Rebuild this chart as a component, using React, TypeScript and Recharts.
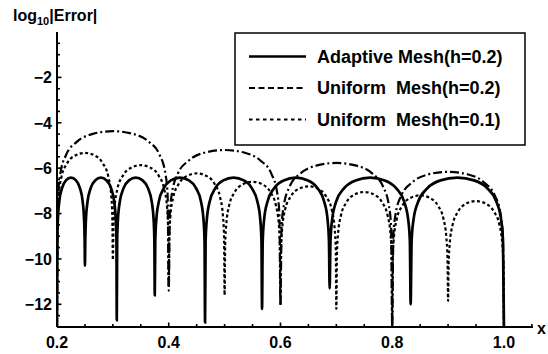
import { LineChart, Line, XAxis, YAxis, Legend } from "recharts";

const font = "'Liberation Sans', Arial, sans-serif";

// tick values
const xMajorTicks = [0.2, 0.4, 0.6, 0.8, 1.0];
const xTicks = [0.2, 0.25, 0.3, 0.35, 0.4, 0.45, 0.5, 0.55, 0.6, 0.65, 0.7, 0.75, 0.8, 0.85, 0.9, 0.95, 1.0, 1.05];
const yMajorTicks = [-12, -10, -8, -6, -4, -2];
const yTicks = [
  -13, -12.5, -12, -11.5, -11, -10.5, -10, -9.5, -9, -8.5, -8, -7.5, -7,
  -6.5, -6, -5.5, -5, -4.5, -4, -3.5, -3, -2.5, -2, -1.5, -1, -0.5,
];

// [x, log10|error|]
const adaptiveMesh: [number, number][] = [
  [0.2, -13], [0.2005, -9.22], [0.2015, -8.29], [0.204, -7.48], [0.209, -6.88], [0.216, -6.54], [0.225, -6.42], [0.234, -6.54], [0.241, -6.88], [0.246, -7.48], [0.2485, -8.29], [0.2495, -9.22],
  [0.25, -10.3], [0.2506, -9.22], [0.2517, -8.29], [0.2546, -7.48], [0.2603, -6.88], [0.2682, -6.54], [0.2785, -6.42], [0.2888, -6.54], [0.2967, -6.88], [0.3024, -7.48], [0.3053, -8.29], [0.3064, -9.22],
  [0.307, -12.7], [0.3077, -9.22], [0.309, -8.29], [0.3124, -7.48], [0.3192, -6.88], [0.3288, -6.54], [0.341, -6.42], [0.3532, -6.54], [0.3628, -6.88], [0.3696, -7.48], [0.373, -8.29], [0.3743, -9.22],
  [0.375, -11.6], [0.3759, -9.22], [0.3777, -8.29], [0.3822, -7.48], [0.3912, -6.88], [0.4038, -6.54], [0.42, -6.42], [0.4362, -6.54], [0.4488, -6.88], [0.4578, -7.48], [0.4623, -8.29], [0.4641, -9.22],
  [0.465, -12.8], [0.466, -9.22], [0.4681, -8.29], [0.4732, -7.48], [0.4834, -6.88], [0.4976, -6.54], [0.516, -6.42], [0.5344, -6.54], [0.5486, -6.88], [0.5588, -7.48], [0.5639, -8.29], [0.566, -9.22],
  [0.567, -12.2], [0.5682, -9.22], [0.5706, -8.29], [0.5767, -7.48], [0.5888, -6.88], [0.6057, -6.54], [0.6275, -6.42], [0.6493, -6.54], [0.6662, -6.88], [0.6783, -7.48], [0.6844, -8.29], [0.6868, -9.22],
  [0.688, -11.3], [0.6895, -9.22], [0.6924, -8.29], [0.6996, -7.48], [0.7141, -6.88], [0.7344, -6.54], [0.7605, -6.42], [0.7866, -6.54], [0.8069, -6.88], [0.8214, -7.48], [0.8287, -8.29], [0.8316, -9.22],
  [0.833, -12.0], [0.8347, -9.22], [0.838, -8.29], [0.8464, -7.48], [0.8631, -6.88], [0.8864, -6.54], [0.9165, -6.42], [0.9466, -6.54], [0.9699, -6.88], [0.9866, -7.48], [0.995, -8.29], [0.9983, -9.22],
  [1.0, -13],
];

const uniformMesh02: [number, number][] = [
  [0.2, -13], [0.202, -7.17], [0.206, -6.24], [0.216, -5.43], [0.236, -4.83], [0.264, -4.49], [0.3, -4.37], [0.336, -4.49], [0.364, -4.83], [0.384, -5.43], [0.394, -6.24], [0.398, -7.17],
  [0.4, -11.4], [0.402, -8.0], [0.406, -7.07], [0.416, -6.26], [0.436, -5.66], [0.464, -5.32], [0.5, -5.2], [0.536, -5.32], [0.564, -5.66], [0.584, -6.26], [0.594, -7.07], [0.598, -8.0],
  [0.6, -12.0], [0.602, -8.57], [0.606, -7.64], [0.616, -6.83], [0.636, -6.23], [0.664, -5.89], [0.7, -5.77], [0.736, -5.89], [0.764, -6.23], [0.784, -6.83], [0.794, -7.64], [0.798, -8.57],
  [0.8, -13], [0.802, -8.96], [0.806, -8.03], [0.816, -7.22], [0.836, -6.62], [0.864, -6.28], [0.9, -6.16], [0.936, -6.28], [0.964, -6.62], [0.984, -7.22], [0.994, -8.03], [0.998, -8.96],
  [1.0, -13],
];

const uniformMesh01: [number, number][] = [
  [0.2, -13], [0.201, -8.13], [0.203, -7.2], [0.208, -6.39], [0.218, -5.79], [0.232, -5.45], [0.25, -5.33], [0.268, -5.45], [0.282, -5.79], [0.292, -6.39], [0.297, -7.2], [0.299, -8.13],
  [0.3, -10.05], [0.301, -8.67], [0.303, -7.74], [0.308, -6.93], [0.318, -6.33], [0.332, -5.99], [0.35, -5.87], [0.368, -5.99], [0.382, -6.33], [0.392, -6.93], [0.397, -7.74], [0.399, -8.67],
  [0.4, -11.2], [0.401, -9.03], [0.403, -8.1], [0.408, -7.29], [0.418, -6.69], [0.432, -6.35], [0.45, -6.23], [0.468, -6.35], [0.482, -6.69], [0.492, -7.29], [0.497, -8.1], [0.499, -9.03],
  [0.5, -11.6], [0.501, -9.4], [0.503, -8.47], [0.508, -7.66], [0.518, -7.06], [0.532, -6.72], [0.55, -6.6], [0.568, -6.72], [0.582, -7.06], [0.592, -7.66], [0.597, -8.47], [0.599, -9.4],
  [0.6, -12.05], [0.601, -9.6], [0.603, -8.67], [0.608, -7.86], [0.618, -7.26], [0.632, -6.92], [0.65, -6.8], [0.668, -6.92], [0.682, -7.26], [0.692, -7.86], [0.697, -8.67], [0.699, -9.6],
  [0.7, -12.2], [0.701, -9.85], [0.703, -8.92], [0.708, -8.11], [0.718, -7.51], [0.732, -7.17], [0.75, -7.05], [0.768, -7.17], [0.782, -7.51], [0.792, -8.11], [0.797, -8.92], [0.799, -9.85],
  [0.8, -13], [0.801, -10.0], [0.803, -9.07], [0.808, -8.26], [0.818, -7.66], [0.832, -7.32], [0.85, -7.2], [0.868, -7.32], [0.882, -7.66], [0.892, -8.26], [0.897, -9.07], [0.899, -10.0],
  [0.9, -11.85], [0.901, -10.25], [0.903, -9.32], [0.908, -8.51], [0.918, -7.91], [0.932, -7.57], [0.95, -7.45], [0.968, -7.57], [0.982, -7.91], [0.992, -8.51], [0.997, -9.32], [0.999, -10.25],
  [1.0, -13],
];

const series = [
  { name: "Adaptive Mesh(h=0.2)", points: adaptiveMesh, width: 2.7, dash: undefined, legendDash: undefined },
  { name: "Uniform  Mesh(h=0.2)", points: uniformMesh02, width: 2.2, dash: "9 3 2 3", legendDash: "6 3.5" },
  { name: "Uniform  Mesh(h=0.1)", points: uniformMesh01, width: 2.2, dash: "3 2.5", legendDash: "3.5 3.5" },
];

const YTick = ({ x, y, payload }: any) => {
  const v = payload.value;
  const major = yMajorTicks.includes(v);
  return (
    <g>
      <line x1={x} x2={x + (major ? 4.5 : 3)} y1={y} y2={y} stroke="#000" strokeWidth={1.6} />
      {major && (
        <text x={x - 5} y={y} dy="0.36em" textAnchor="end" fontSize={16} fontWeight="bold" fontFamily={font} fill="#000">
          {"\u2212" + Math.abs(v)}
        </text>
      )}
    </g>
  );
};

const XTick = ({ x, y, payload }: any) => {
  const v = payload.value;
  const major = xMajorTicks.includes(v);
  return (
    <g>
      <line x1={x} x2={x} y1={y} y2={y - (major ? 4.5 : 3)} stroke="#000" strokeWidth={1.6} />
      {major && (
        <text x={x} y={y + 21} textAnchor="middle" fontSize={16} fontWeight="bold" fontFamily={font} fill="#000">
          {v.toFixed(1)}
        </text>
      )}
    </g>
  );
};

const AxisTitle = () => (
  <text x={13} y={21} fontSize={16} fontWeight="bold" fontFamily={font} fill="#000">
    log
    <tspan fontSize={11} dy={4}>10</tspan>
    <tspan dy={-4}>|Error|</tspan>
  </text>
);

const XName = () => (
  <text x={537} y={334} fontSize={16} fontWeight="bold" fontFamily={font} fill="#000">
    x
  </text>
);

const MeshLegend = () => (
  <svg width={292} height={114} style={{ display: "block" }}>
    <rect x={1} y={1} width={290} height={112} fill="#fff" stroke="#000" strokeWidth={1.5} />
    {series.map((s, i) => {
      const cy = 24.5 + i * 31.5;
      return (
        <g key={s.name}>
          <line x1={15} x2={72} y1={cy} y2={cy} stroke="#000" strokeWidth={s.width} strokeDasharray={s.legendDash} />
          <text x={83} y={cy} dy="0.36em" fontSize={18} fontWeight="bold" fontFamily={font} fill="#000" style={{ whiteSpace: "pre" }}>
            {s.name}
          </text>
        </g>
      );
    })}
  </svg>
);

export default function App() {
  return (
    <div style={{ position: "absolute", left: 0, top: 0, width: 548, height: 354, background: "#fff" }}>
      <LineChart width={548} height={354} margin={{ top: 32, right: 15, bottom: 0, left: 0 }}>
        <XAxis
          type="number"
          dataKey="x"
          domain={[0.2, 1.052]}
          allowDataOverflow
          ticks={xTicks}
          interval={0}
          height={27}
          tickSize={0}
          tickMargin={0}
          tickLine={false}
          tick={<XTick />}
          axisLine={{ stroke: "#000", strokeWidth: 2 }}
          label={<XName />}
        />
        <YAxis
          type="number"
          domain={[-13, 0]}
          allowDataOverflow
          ticks={yTicks}
          interval={0}
          width={57}
          tickSize={0}
          tickMargin={0}
          tickLine={false}
          tick={<YTick />}
          axisLine={{ stroke: "#000", strokeWidth: 2 }}
          label={<AxisTitle />}
        />
        {series.map((s) => (
          <Line
            key={s.name}
            name={s.name}
            data={s.points.map(([x, y]) => ({ x, y }))}
            dataKey="y"
            type="monotone"
            stroke="#000"
            strokeWidth={s.width}
            strokeDasharray={s.dash}
            dot={false}
            activeDot={false}
            isAnimationActive={false}
          />
        ))}
        <Legend
          verticalAlign="middle"
          content={<MeshLegend />}
          wrapperStyle={{ position: "absolute", left: 234, top: 32, width: 292, height: 114 }}
        />
      </LineChart>
    </div>
  );
}
